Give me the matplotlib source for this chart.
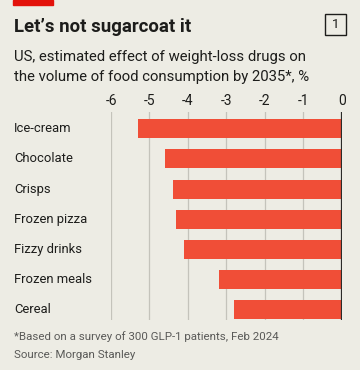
"""Economist-style horizontal bar chart: weight-loss drugs and food consumption."""

import matplotlib

matplotlib.use("Agg")

import matplotlib.pyplot as plt
import matplotlib.transforms as mtransforms
from matplotlib.patches import Rectangle

categories = ["Ice-cream", "Chocolate", "Crisps", "Frozen pizza",
              "Fizzy drinks", "Frozen meals", "Cereal"]
effect = [-5.3, -4.6, -4.4, -4.3, -4.1, -3.2, -2.8]
xticks = [-6, -5, -4, -3, -2, -1, 0]
xticklabels = ["-6", "-5", "-4", "-3", "-2", "-1", "0"]

BG = "#EDECE4"
RED = "#F04E37"
INK = "#1D1D1B"
GREY = "#5A5A58"

W, H = 360, 370
plt.rcParams["font.family"] = ["Roboto", "DejaVu Sans"]

fig = plt.figure(figsize=(W / 100, H / 100), dpi=100, facecolor=BG)


def fx(px):
    return px / W


def fy(py):
    return 1 - py / H


# plot area in pixel coordinates (top-left origin)
left, right, top, bottom = 111, 341.7, 111.7, 320
ax = fig.add_axes([fx(left), fy(bottom), fx(right - left), (bottom - top) / H])
ax.set_facecolor(BG)

ypos = list(range(len(categories)))
ax.barh(ypos, effect, height=0.63, color=RED, zorder=2)
ax.set_xlim(-6, 0)
ax.set_ylim(6.338, -0.567)

for t in xticks[:-1]:
    ax.axvline(t, color="#C4C3BB", lw=0.9, zorder=1)
ax.axvline(0, color="#2B2B29", lw=1.6, zorder=3)

for s in ax.spines.values():
    s.set_visible(False)
ax.xaxis.tick_top()
ax.set_xticks(xticks)
ax.set_xticklabels(xticklabels, fontsize=10, color=INK)
ax.tick_params(axis="x", length=0, pad=3)
ax.set_yticks([])

trans = mtransforms.blended_transform_factory(fig.transFigure, ax.transData)
for i, name in enumerate(categories):
    ax.text(fx(14), i, name, transform=trans, ha="left", va="center",
            fontsize=9.4, color=INK)

# header
fig.patches.append(Rectangle((fx(13), fy(5)), fx(40), 5 / H,
                             transform=fig.transFigure, color="#E3120B"))
fig.text(fx(14), fy(27), "Let\u2019s not sugarcoat it", fontsize=13.4,
         fontweight="bold", color=INK, va="center", ha="left")
fig.patches.append(Rectangle((fx(324.5), fy(35)), fx(21.5), 21 / H,
                             transform=fig.transFigure, fill=False,
                             edgecolor=INK, lw=1))
fig.text(fx(335.3), fy(24.5), "1", fontsize=9.5, color=INK,
         ha="center", va="center")
fig.text(fx(14), fy(57), "US, estimated effect of weight-loss drugs on",
         fontsize=10.75, color=INK, va="center", ha="left")
fig.text(fx(14), fy(77), "the volume of food consumption by 2035*, %",
         fontsize=10.75, color=INK, va="center", ha="left")

# footer
fig.text(fx(14), fy(337), "*Based on a survey of 300 GLP-1 patients, Feb 2024",
         fontsize=8.25, color=GREY, va="center", ha="left")
fig.text(fx(14), fy(355), "Source: Morgan Stanley",
         fontsize=8.25, color=GREY, va="center", ha="left")

fig.savefig("out.png", dpi=100, facecolor=BG)
plt.close(fig)
